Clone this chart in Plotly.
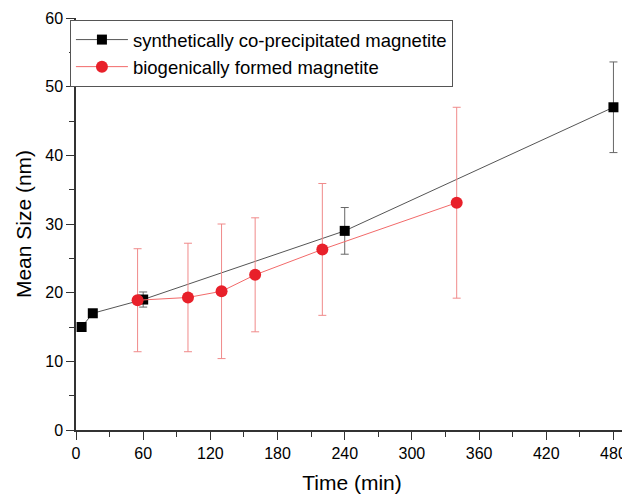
import plotly.graph_objects as go

# synthetically co-precipitated magnetite
syn_time = [5, 15, 60, 240, 480]
syn_size = [15.0, 17.0, 19.0, 29.0, 47.0]
syn_err = [0.0, 0.0, 1.1, 3.4, 6.6]

# biogenically formed magnetite
bio_time = [55, 100, 130, 160, 220, 340]
bio_size = [18.9, 19.3, 20.2, 22.6, 26.3, 33.1]
bio_err = [7.5, 7.9, 9.8, 8.3, 9.6, 13.9]

x_ticks = [0, 60, 120, 180, 240, 300, 360, 420, 480]
y_ticks = [0, 10, 20, 30, 40, 50, 60]

fig = go.Figure()

fig.add_trace(
    go.Scatter(
        x=syn_time,
        y=syn_size,
        mode="lines+markers",
        name="synthetically co-precipitated magnetite",
        line=dict(color="#555555", width=1),
        marker=dict(symbol="square", size=10, color="black"),
        error_y=dict(type="data", array=syn_err, color="#666666", thickness=1, width=4),
    )
)

fig.add_trace(
    go.Scatter(
        x=bio_time,
        y=bio_size,
        mode="lines+markers",
        name="biogenically formed magnetite",
        line=dict(color="#f26a6a", width=1),
        marker=dict(symbol="circle", size=12, color="#e8202a"),
        error_y=dict(type="data", array=bio_err, color="#f08a8a", thickness=1, width=4),
    )
)

axis_font = dict(family="Liberation Sans, Arial", size=16, color="black")

# page body has an 8px margin, so the figure is sized to sit inside the window
fig.update_layout(
    width=622,
    height=490,
    margin=dict(l=68, r=2, t=10, b=68),
    plot_bgcolor="white",
    paper_bgcolor="white",
    font=dict(family="Liberation Sans, Arial", color="black"),
    legend=dict(
        x=-0.011,
        y=0.995,
        xanchor="left",
        yanchor="top",
        bordercolor="#555555",
        borderwidth=1,
        bgcolor="white",
        font=dict(size=18.5),
        itemwidth=52,
        tracegroupgap=0,
    ),
    xaxis=dict(
        range=[0, 493],
        tickvals=x_ticks,
        ticks="outside",
        ticklen=8,
        tickcolor="#333333",
        showline=True,
        linecolor="#333333",
        linewidth=1.5,
        showgrid=False,
        zeroline=False,
        automargin=False,
        tickfont=axis_font,
        title=dict(text="Time (min)", font=dict(size=21), standoff=14),
        minor=dict(dtick=30, ticks="outside", ticklen=5, tickcolor="#333333"),
    ),
    yaxis=dict(
        range=[0, 60],
        tickvals=y_ticks,
        ticks="outside",
        ticklen=8,
        tickcolor="#333333",
        showline=True,
        linecolor="#333333",
        linewidth=1.5,
        showgrid=False,
        zeroline=False,
        automargin=False,
        tickfont=axis_font,
        title=dict(text="Mean Size (nm)", font=dict(size=21), standoff=8),
        minor=dict(dtick=5, ticks="outside", ticklen=5, tickcolor="#333333"),
    ),
)

fig.write_html("out.html")
